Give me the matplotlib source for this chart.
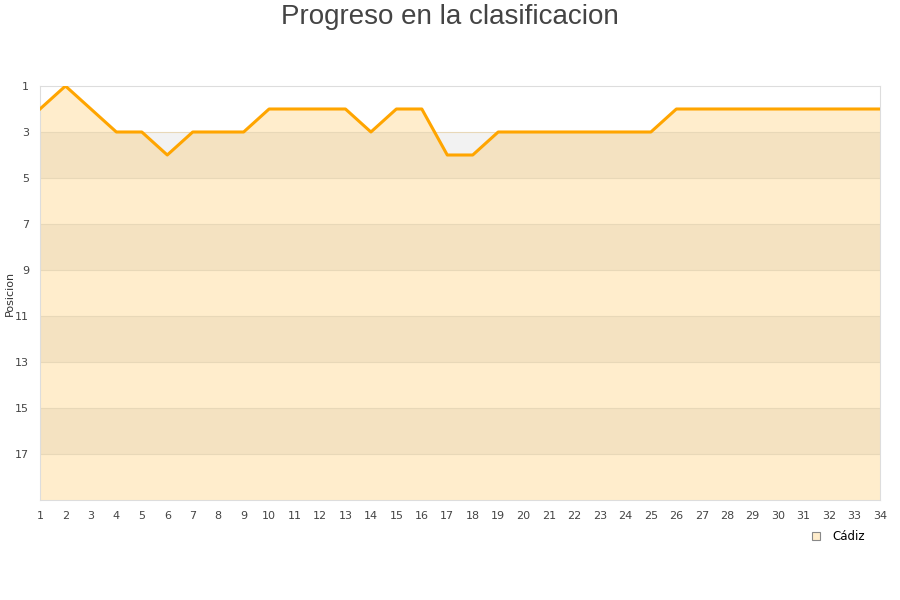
import matplotlib
matplotlib.use('Agg')
from matplotlib import pyplot as plt
from matplotlib.lines import Line2D

jornadas = list(range(1, 35))
posicion = [2, 1, 2, 3, 3, 4, 3, 3, 3, 2, 2, 2, 2, 3, 2, 2, 4, 4, 3,
            3, 3, 3, 3, 3, 3, 2, 2, 2, 2, 2, 2, 2, 2, 2]
equipo = 'Cádiz'
y_ticks = [1, 3, 5, 7, 9, 11, 13, 15, 17]

fig = plt.figure(figsize=(9, 6), dpi=100)
ax = fig.add_axes([40/900, 100/600, 840/900, 414/600])

# bandas alternas
for y0 in [3, 7, 11, 15]:
    ax.axhspan(y0, y0 + 2, color='#f2f2f2', lw=0, zorder=0)

ax.fill_between(jornadas, posicion, 19, color='#ffa500', alpha=0.2, lw=0, zorder=1)
for y in y_ticks[1:]:
    ax.axhline(y, color='#e8d8b8', lw=0.8, zorder=2)
ax.plot(jornadas, posicion, color='#ffa500', lw=2.2, zorder=3)

ax.set_xlim(1, 34)
ax.set_ylim(19, 1)
ax.set_yticks(y_ticks)
ax.set_xticks(jornadas)
ax.tick_params(length=0, labelsize=8, colors='#444444', pad=8)
for s in ax.spines.values():
    s.set_color('#dddddd')
    s.set_linewidth(0.8)
fig.text(10/900, 1 - 293/600, 'Posicion', rotation=90, ha='center', va='center',
         fontsize=8, color='#333333')

fig.text(0.5, 1 - 17/600, 'Progreso en la clasificacion', ha='center', va='center',
         fontsize=20, color='#444444', family='Liberation Sans')

h = Line2D([], [], marker='s', ls='none', markersize=6,
           markerfacecolor='#ffedcc', markeredgecolor='#888888', markeredgewidth=0.8)
fig.legend([h], [equipo], loc='center', bbox_to_anchor=(835/900, 1 - 537/600),
           frameon=False, fontsize=8.5, handletextpad=0.4)

fig.savefig('out.png', dpi=100)
